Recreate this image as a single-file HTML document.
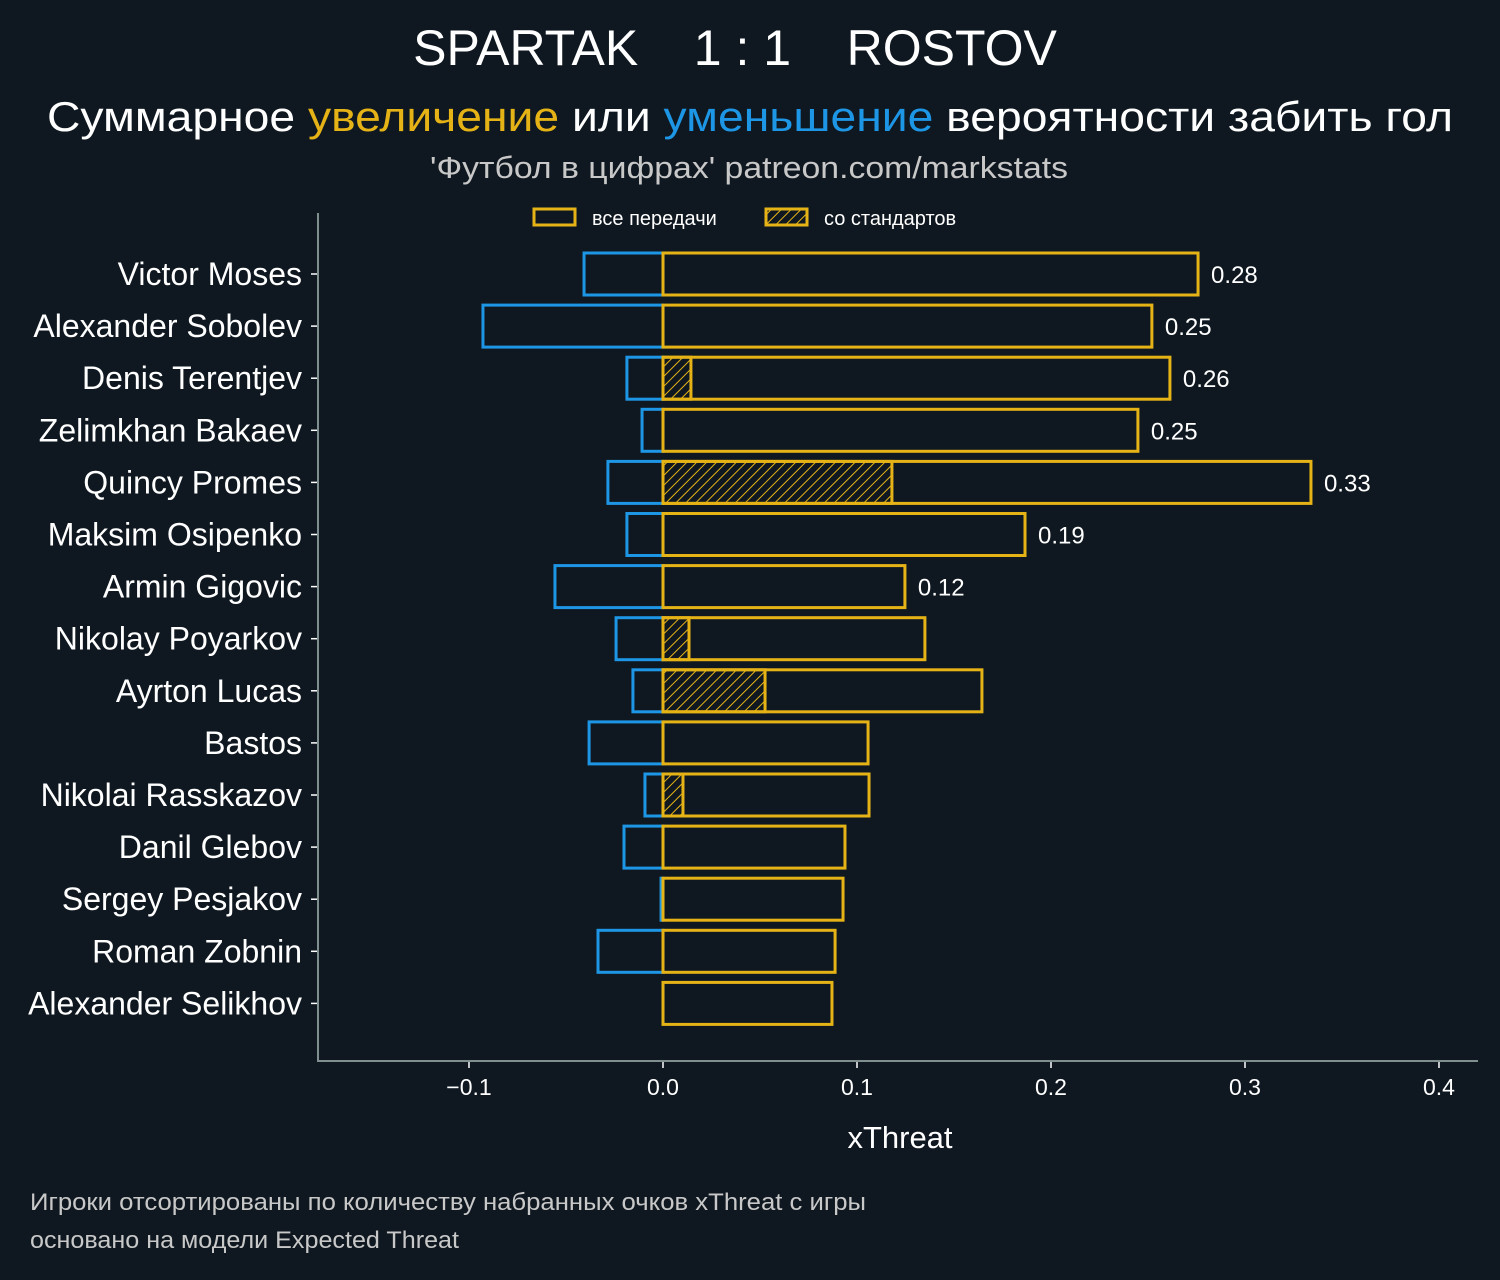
<!DOCTYPE html>
<html><head><meta charset="utf-8">
<style>
html,body{margin:0;padding:0;background:#0f1820;}
body{width:1500px;height:1275px;overflow:hidden;font-family:"Liberation Sans","Noto Sans CJK SC",sans-serif;}
</style></head>
<body>
<svg id="chart" width="1500" height="1275" xmlns="http://www.w3.org/2000/svg" font-family="Liberation Sans, Noto Sans CJK SC, sans-serif">
<defs>
<pattern id="hatch" patternUnits="userSpaceOnUse" width="7" height="7" patternTransform="rotate(45)">
<line x1="0" y1="0" x2="0" y2="7" stroke="#e6b317" stroke-width="2"/>
</pattern>
</defs>
<rect width="1500" height="1275" fill="#0f1820"/>
<text x="735" y="65" fill="#fff" font-size="50" text-anchor="middle" xml:space="preserve">SPARTAK    1 : 1    ROSTOV</text>
<text x="47" y="131" fill="#fff" font-size="42" textLength="1406" lengthAdjust="spacingAndGlyphs">Суммарное <tspan fill="#e6b317">увеличение</tspan> или <tspan fill="#1e96e6">уменьшение</tspan> вероятности забить гол</text>
<text x="430" y="178" fill="#c8c8c8" font-size="31" textLength="638" lengthAdjust="spacingAndGlyphs">'Футбол в цифрах' patreon.com/markstats</text>
<g>
<rect x="534" y="209" width="41" height="16" fill="none" stroke="#e6b317" stroke-width="3"/>
<text x="592" y="225" fill="#fff" font-size="20">все передачи</text>
<rect x="766" y="209" width="41" height="16" fill="url(#hatch)" stroke="#e6b317" stroke-width="3"/>
<text x="824" y="225" fill="#fff" font-size="20">со стандартов</text>
</g>
<g id="plot"></g>
<text x="900" y="1148" fill="#fff" font-size="31" text-anchor="middle">xThreat</text>
<text x="30" y="1210" fill="#c8c8c8" font-size="24" textLength="836" lengthAdjust="spacingAndGlyphs">Игроки отсортированы по количеству набранных очков xThreat с игры</text>
<text x="30" y="1248" fill="#c8c8c8" font-size="24" textLength="429" lengthAdjust="spacingAndGlyphs">основано на модели Expected Threat</text>
</svg>
<script>
const players = ["Victor Moses","Alexander Sobolev","Denis Terentjev","Zelimkhan Bakaev","Quincy Promes","Maksim Osipenko","Armin Gigovic","Nikolay Poyarkov","Ayrton Lucas","Bastos","Nikolai Rasskazov","Danil Glebov","Sergey Pesjakov","Roman Zobnin","Alexander Selikhov"];
const positiveValues = [0.2758,0.252,0.2613,0.2448,0.334,0.1866,0.1247,0.135,0.1644,0.1057,0.1062,0.0938,0.0928,0.0887,0.0871];
const negativeValues = [-0.0407,-0.0928,-0.0186,-0.0108,-0.0284,-0.0186,-0.0557,-0.0242,-0.0155,-0.0381,-0.0093,-0.0201,-0.001,-0.0335,0];
const setPieceValues = [0,0,0.0144,0,0.118,0,0,0.0134,0.0526,0,0.0103,0,0,0,0];
const valueLabels = ["0.28","0.25","0.26","0.25","0.33","0.19","0.12","","","","","","","",""];
const xTicks = [-0.1,0,0.1,0.2,0.3,0.4];
const xTickLabels = ["−0.1","0.0","0.1","0.2","0.3","0.4"];

const NS="http://www.w3.org/2000/svg";
const g=document.getElementById('plot');
const x=v=>663+v*1940;
const yc=i=>274+i*52.1;
const BH=42;
function el(tag,attrs,parent){const e=document.createElementNS(NS,tag);for(const k in attrs)e.setAttribute(k,attrs[k]);(parent||g).appendChild(e);return e;}

const ax=el('line',{x1:318,y1:1061,x2:1478,y2:1061,stroke:'#7f8f8f','stroke-width':2});


const ay=el('line',{x1:318,y1:213,x2:318,y2:1062,stroke:'#7f8f8f','stroke-width':2});



xTicks.forEach((t,i)=>{
  const tk=el('line',{x1:x(t),y1:1062,x2:x(t),y2:1068,stroke:'#fff','stroke-width':1.5});
  
  
  const tl=el('text',{x:x(t),y:1095,fill:'#fff','font-size':23,'text-anchor':'middle'});
  tl.textContent=xTickLabels[i];
  
  
});

players.forEach((p,i)=>{
  const cy=yc(i), top=cy-BH/2;
  const tk=el('line',{x1:311,y1:cy,x2:317,y2:cy,stroke:'#fff','stroke-width':1.5});
  
  
  const lb=el('text',{x:302,y:cy+11,fill:'#fff','font-size':32,'text-anchor':'end'});
  lb.textContent=p;
  
  
  if(negativeValues[i]<0){
    const nb=el('rect',{x:x(negativeValues[i]),y:top,width:x(0)-x(negativeValues[i]),height:BH,fill:'none',stroke:'#1e96e6','stroke-width':3});
    
    
  }
  if(setPieceValues[i]>0){
    const hb=el('rect',{x:x(0),y:top,width:x(setPieceValues[i])-x(0),height:BH,fill:'url(#hatch)',stroke:'#e6b317','stroke-width':3});
    
    
  }
  const pb=el('rect',{x:x(0),y:top,width:x(positiveValues[i])-x(0),height:BH,fill:'none',stroke:'#e6b317','stroke-width':3});
  
  
  if(valueLabels[i]){
    const vl=el('text',{x:x(positiveValues[i])+13,y:cy+9,fill:'#fff','font-size':24});
    vl.textContent=valueLabels[i];
    
    
  }
});
</script>
</body></html>
